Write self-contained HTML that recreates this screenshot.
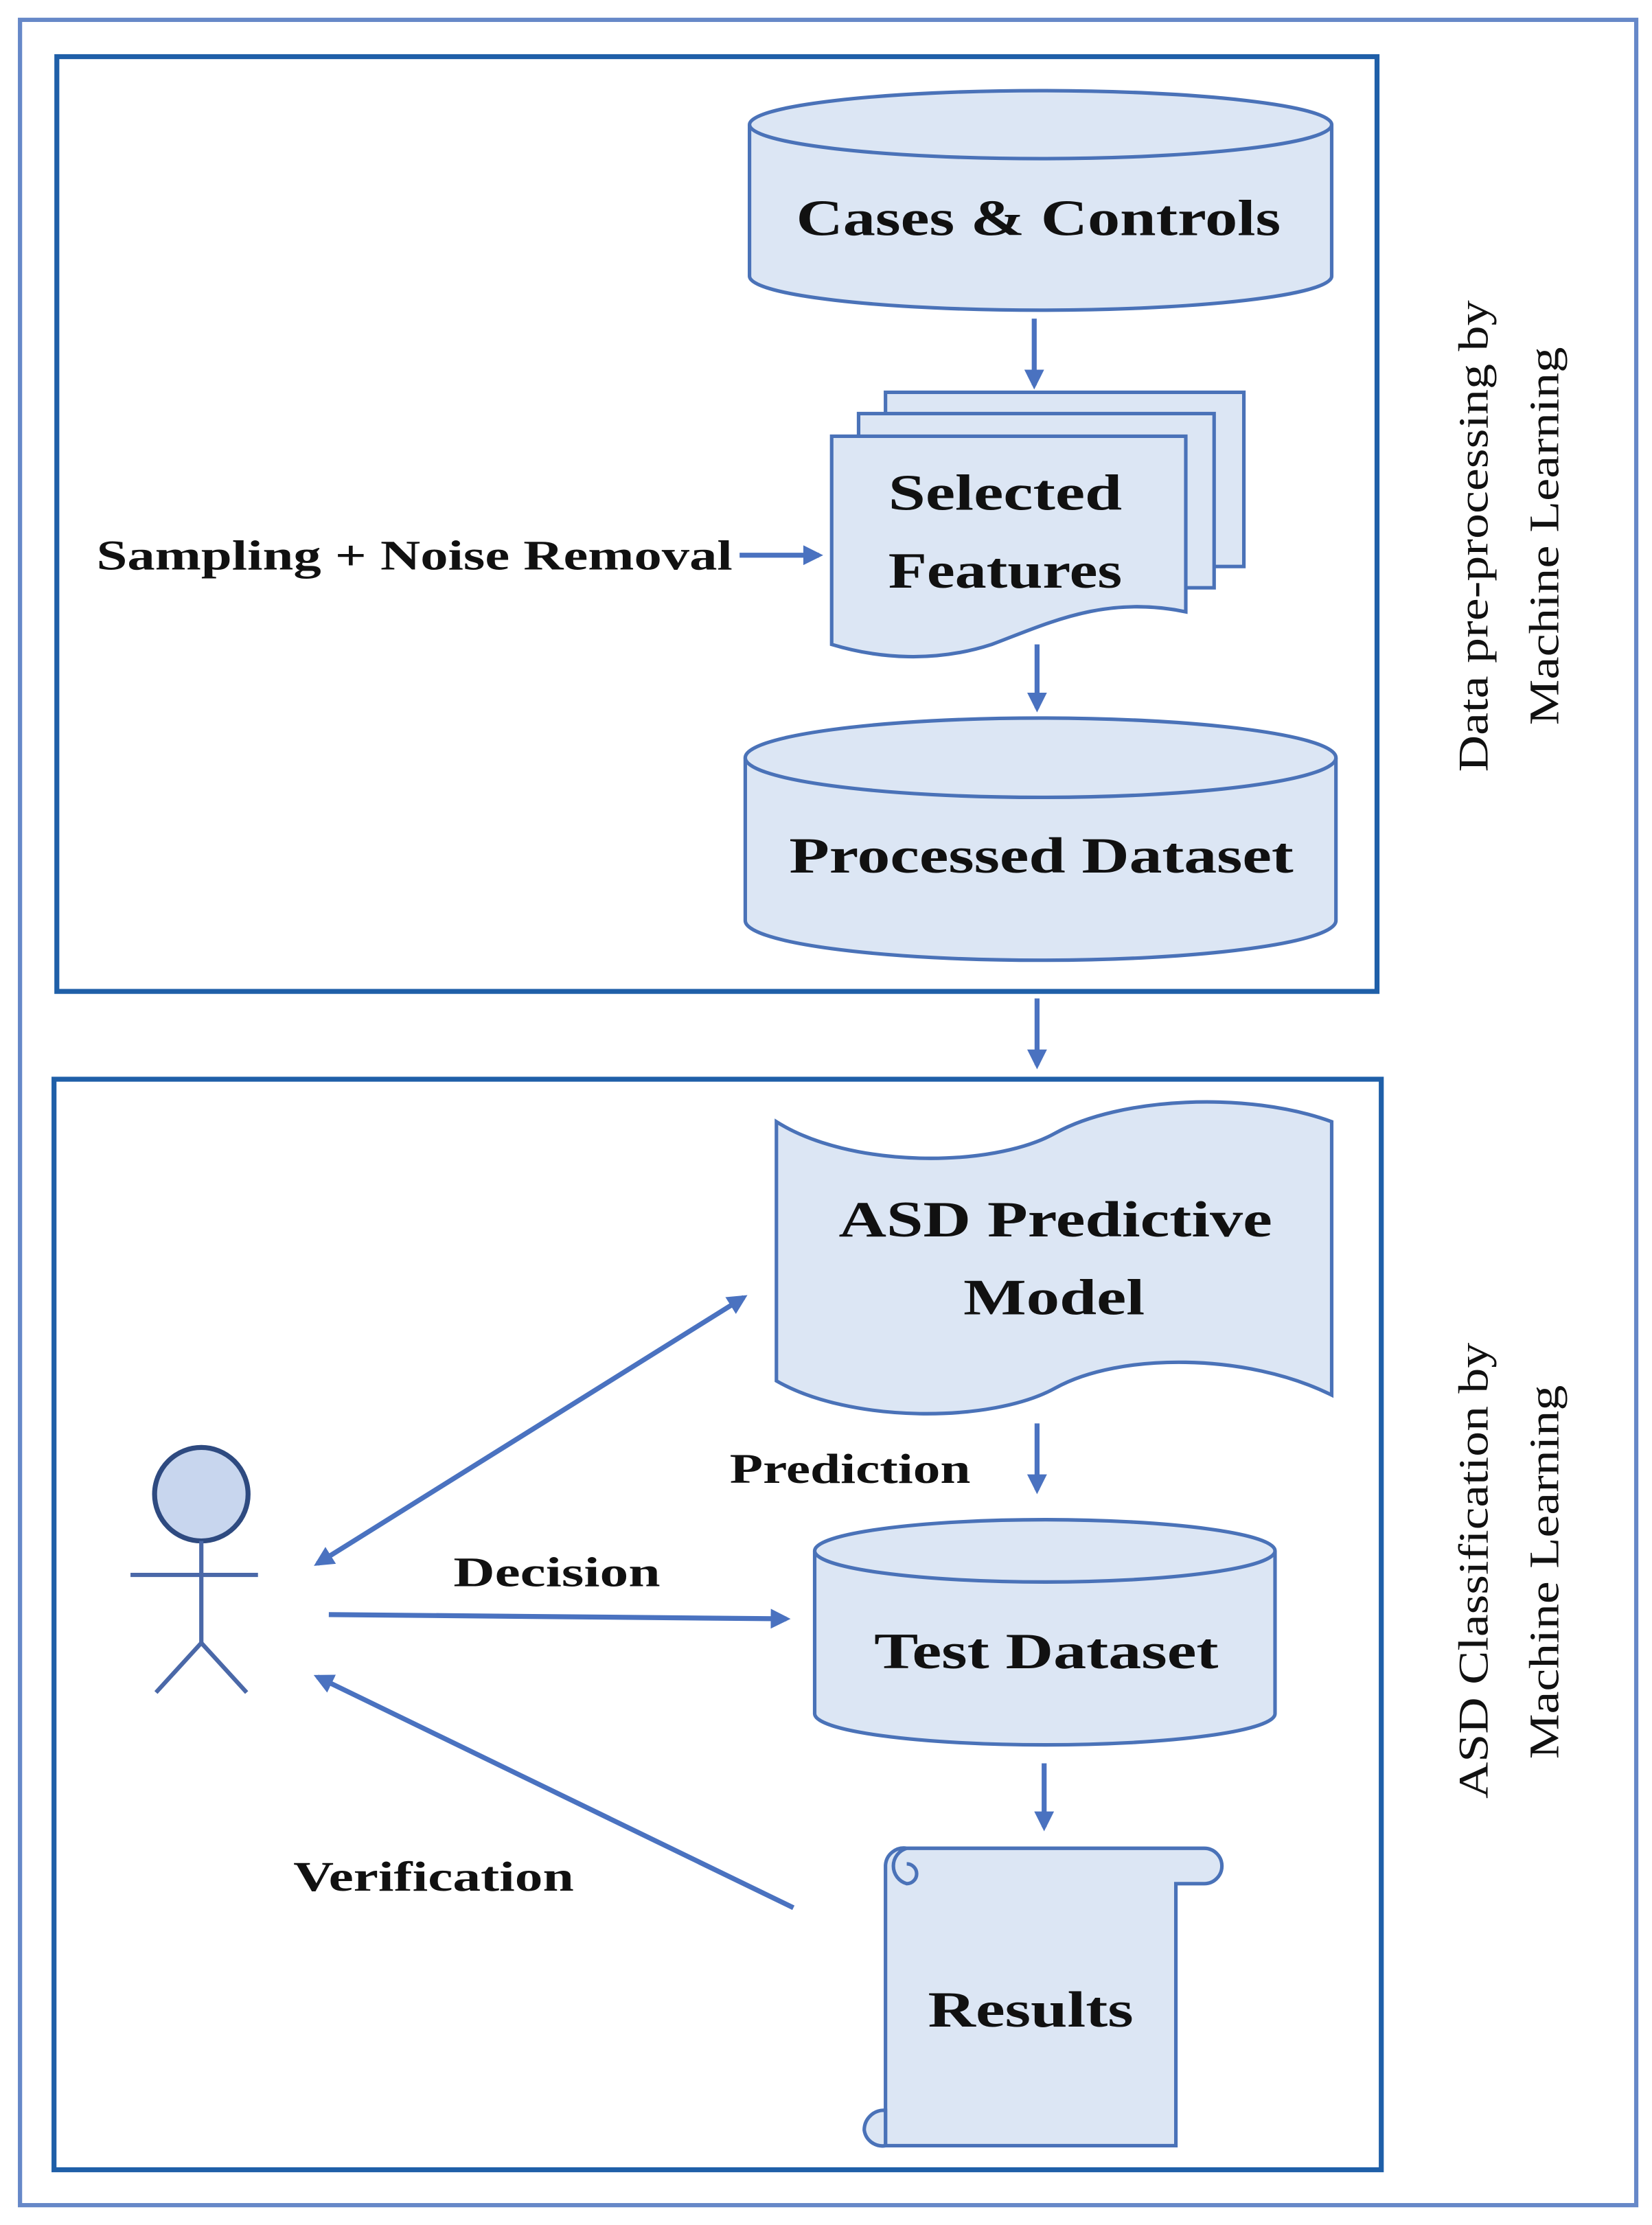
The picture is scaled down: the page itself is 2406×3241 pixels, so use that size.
<!DOCTYPE html>
<html><head><meta charset="utf-8"><style>
html,body{margin:0;padding:0;background:#fff}
svg{display:block}
text{font-family:"Liberation Serif",serif;fill:#111}
.b{font-weight:bold}
</style></head><body>
<svg width="2406" height="3241" viewBox="0 0 1166 1571" xmlns="http://www.w3.org/2000/svg">
<defs>
<marker id="ah" markerWidth="14" markerHeight="14" refX="11" refY="7" orient="auto" markerUnits="userSpaceOnUse">
<path d="M0,0 L14,7 L0,14 z" fill="#4a72c0"/></marker>
<marker id="ahs" markerWidth="14" markerHeight="14" refX="3" refY="7" orient="auto" markerUnits="userSpaceOnUse">
<path d="M14,0 L0,7 L14,14 z" fill="#4a72c0"/></marker>
</defs>
<rect x="14" y="14" width="1141" height="1543" fill="none" stroke="#6688c8" stroke-width="3"/>
<rect x="40" y="40" width="932" height="660" fill="none" stroke="#1f5fa8" stroke-width="3.5"/>
<rect x="38" y="762" width="937" height="770" fill="none" stroke="#1f5fa8" stroke-width="3.5"/>

<g fill="#dce6f4" stroke="#4a72b8" stroke-width="2.5">
<path d="M529,88 L529,195 A205.5,24 0 0 0 940,195 L940,88"/>
<ellipse cx="734.5" cy="88" rx="205.5" ry="24"/>
<path d="M625,277 H878 V400 H625 Z"/>
<path d="M606,292 H857 V415 H606 Z"/>
<path d="M587,308 H837 V432 C780,420 740,440 700,455 C660,468 620,465 587,455 Z"/>
<path d="M526,535 L526,650 A208.5,28 0 0 0 943,650 L943,535"/>
<ellipse cx="734.5" cy="535" rx="208.5" ry="28"/>
<path d="M548,792 C600,825 700,825 745,800 C790,775 880,770 940,792 L940,985 C880,955 790,955 745,980 C700,1005 600,1005 548,975 Z"/>
<path d="M575,1095 L575,1210 A162.5,22 0 0 0 900,1210 L900,1095"/>
<ellipse cx="737.5" cy="1095" rx="162.5" ry="22"/>
<path d="M625,1317 L625,1515 L830,1515 L830,1330 L850,1330 A12,12 0 0 0 850,1305 L640,1305 A13,13 0 0 0 625,1317 Z"/>
<path d="M640,1305 A13,13 0 0 0 640,1330 A7,7 0 0 0 640,1316"/>
<path d="M625,1490 A14,14 0 0 0 610,1504 A13,13 0 0 0 625,1515 Z"/>
</g>

<g lengthAdjust="spacingAndGlyphs">
<text x="562" y="166" class="b" font-size="36" textLength="342" lengthAdjust="spacingAndGlyphs">Cases &amp; Controls</text>
<text x="627" y="360" class="b" font-size="36" textLength="165" lengthAdjust="spacingAndGlyphs">Selected</text>
<text x="627" y="415" class="b" font-size="36" textLength="165" lengthAdjust="spacingAndGlyphs">Features</text>
<text x="68" y="402" class="b" font-size="30" textLength="449" lengthAdjust="spacingAndGlyphs">Sampling + Noise Removal</text>
<text x="557" y="616" class="b" font-size="36" textLength="356" lengthAdjust="spacingAndGlyphs">Processed Dataset</text>
<text x="592" y="873" class="b" font-size="36" textLength="306" lengthAdjust="spacingAndGlyphs">ASD Predictive</text>
<text x="680" y="928" class="b" font-size="36" textLength="128" lengthAdjust="spacingAndGlyphs">Model</text>
<text x="515" y="1047" class="b" font-size="30" textLength="170" lengthAdjust="spacingAndGlyphs">Prediction</text>
<text x="617" y="1178" class="b" font-size="36" textLength="243" lengthAdjust="spacingAndGlyphs">Test Dataset</text>
<text x="655" y="1431" class="b" font-size="36" textLength="145" lengthAdjust="spacingAndGlyphs">Results</text>
<text x="320" y="1120" class="b" font-size="30" textLength="146" lengthAdjust="spacingAndGlyphs">Decision</text>
<text x="207" y="1335" class="b" font-size="30" textLength="198" lengthAdjust="spacingAndGlyphs">Verification</text>
</g>

<g stroke="#4a72c0" stroke-width="3.5" fill="none">
<line x1="730" y1="225" x2="730" y2="272" marker-end="url(#ah)"/>
<line x1="522" y1="392" x2="578" y2="392" marker-end="url(#ah)"/>
<line x1="732" y1="455" x2="732" y2="500" marker-end="url(#ah)"/>
<line x1="732" y1="705" x2="732" y2="752" marker-end="url(#ah)"/>
<line x1="732" y1="1005" x2="732" y2="1052" marker-end="url(#ah)"/>
<line x1="737" y1="1245" x2="737" y2="1290" marker-end="url(#ah)"/>
<line x1="224" y1="1104" x2="525" y2="916" marker-end="url(#ah)" marker-start="url(#ahs)"/>
<line x1="232" y1="1140" x2="555" y2="1143" marker-end="url(#ah)"/>
<line x1="560" y1="1347" x2="224" y2="1184" marker-end="url(#ah)"/>
</g>

<g stroke="#4a68a8" stroke-width="3" fill="none">
<circle cx="142" cy="1055" r="33" fill="#c8d6ee" stroke="#2e4a80" stroke-width="3.5"/>
<line x1="142" y1="1088" x2="142" y2="1160"/>
<line x1="92" y1="1112" x2="182" y2="1112"/>
<line x1="142" y1="1160" x2="110" y2="1195"/>
<line x1="142" y1="1160" x2="174" y2="1195"/>
</g>

<g font-size="30">
<text transform="translate(1050,545) rotate(-90)" textLength="333" lengthAdjust="spacingAndGlyphs">Data pre-processing by</text>
<text transform="translate(1100,512) rotate(-90)" textLength="267" lengthAdjust="spacingAndGlyphs">Machine Learning</text>
<text transform="translate(1050,1270) rotate(-90)" textLength="322" lengthAdjust="spacingAndGlyphs">ASD Classification by</text>
<text transform="translate(1100,1242) rotate(-90)" textLength="264" lengthAdjust="spacingAndGlyphs">Machine Learning</text>
</g>
</svg>
</body></html>
